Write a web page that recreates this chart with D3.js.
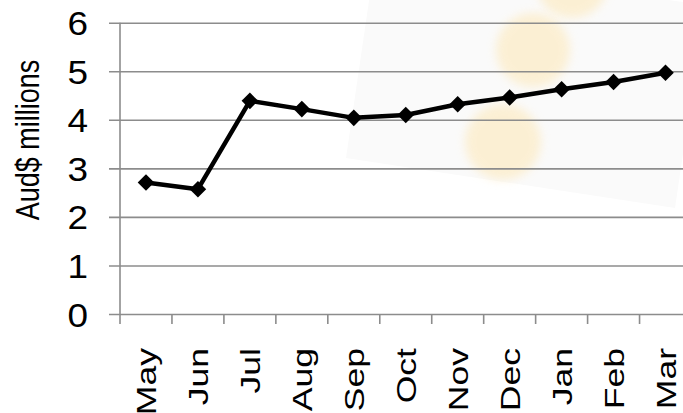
<!DOCTYPE html>
<html>
<head>
<meta charset="utf-8">
<script src="https://cdn.jsdelivr.net/npm/d3@7"></script>
<style>
  html, body { margin: 0; padding: 0; background: #fff; }
  svg { display: block; }
  text { font-family: "Liberation Sans", Arial, sans-serif; fill: #000; }
</style>
</head>
<body>
<div id="chart"></div>
<script>
// chart data
const months = ['May', 'Jun', 'Jul', 'Aug', 'Sep', 'Oct', 'Nov', 'Dec', 'Jan', 'Feb', 'Mar'];
const revenue = [2.71, 2.57, 4.39, 4.22, 4.04, 4.10, 4.32, 4.46, 4.63, 4.78, 4.97];
const yTicks = [0, 1, 2, 3, 4, 5, 6];
const yTitle = 'Aud$ millions';

const width = 683, height = 413;
const plotLeft = 120, plotRight = 691.5, plotTop = 22.7, plotBottom = 314;

const svg = d3.select('#chart').append('svg')
  .attr('width', width)
  .attr('height', height);

const x = d3.scaleBand().domain(months).range([plotLeft, plotRight]);
const y = d3.scaleLinear().domain([0, 6]).range([plotBottom, plotTop]);

// faint background picture behind the plot (decoration only)
const defs = svg.append('defs');
defs.append('filter').attr('id', 'soft')
  .attr('x', '-50%').attr('y', '-50%').attr('width', '200%').attr('height', '200%')
  .append('feGaussianBlur').attr('stdDeviation', 5);
const deco = svg.append('g');
deco.append('polygon')
  .attr('points', '375,-40 705,5 675,208 346,158')
  .attr('fill', '#fafafa');
deco.selectAll('circle')
  .data([[572, -18, 36], [533, 50, 37], [503, 142, 38]])
  .enter().append('circle')
  .attr('cx', d => d[0]).attr('cy', d => d[1]).attr('r', d => d[2])
  .attr('fill', '#fde7b5')
  .attr('opacity', 0.55)
  .attr('filter', 'url(#soft)');

// horizontal gridlines + y axis labels
const yAxis = svg.append('g')
  .attr('transform', `translate(${plotLeft},0)`)
  .call(d3.axisLeft(y).tickValues(yTicks).tickFormat(d3.format('d'))
    .tickSize(-(width - plotLeft)).tickPadding(0));
yAxis.select('.domain').remove();
yAxis.selectAll('.tick line')
  .attr('x1', -11)
  .attr('stroke', '#8c8c8c')
  .attr('stroke-width', 1.6);
yAxis.selectAll('.tick text')
  .attr('x', null)
  .attr('dy', null)
  .attr('transform', 'translate(-32,12) scale(1.12,1)')
  .style('font-size', '33px');

// vertical axis line
svg.append('line')
  .attr('x1', plotLeft).attr('x2', plotLeft)
  .attr('y1', plotTop).attr('y2', plotBottom + 10)
  .attr('stroke', '#8c8c8c').attr('stroke-width', 1.6);

// x axis: ticks at band edges, labels rotated
const xAxis = svg.append('g')
  .attr('transform', `translate(0,${plotBottom})`);
xAxis.selectAll('line')
  .data(months.slice(1))
  .enter().append('line')
  .attr('x1', d => x(d)).attr('x2', d => x(d))
  .attr('y1', 0).attr('y2', 10)
  .attr('stroke', '#8c8c8c').attr('stroke-width', 1.6);
xAxis.selectAll('text')
  .data(months)
  .enter().append('text')
  .attr('transform', d => `translate(${x(d) + x.bandwidth() / 2 + 10},34) scale(1,1.27) rotate(-90)`)
  .attr('text-anchor', 'end')
  .style('font-size', '28px')
  .text(d => d);

// axis title
svg.append('text')
  .attr('transform', 'translate(39,140) scale(1.2,1) rotate(-90)')
  .attr('text-anchor', 'middle')
  .style('font-size', '27px')
  .text(yTitle);

// series line
const pts = months.map((m, i) => [x(m) + x.bandwidth() / 2, y(revenue[i])]);
svg.append('path')
  .datum(pts)
  .attr('d', d3.line())
  .attr('fill', 'none')
  .attr('stroke', '#000')
  .attr('stroke-width', 4.5)
  .attr('stroke-linejoin', 'round');

// diamond markers
svg.selectAll('.marker')
  .data(pts)
  .enter().append('path')
  .attr('class', 'marker')
  .attr('transform', d => `translate(${d[0]},${d[1]})`)
  .attr('d', d3.symbol().type(d3.symbolDiamond2).size(175))
  .attr('fill', '#000');
</script>
</body>
</html>
